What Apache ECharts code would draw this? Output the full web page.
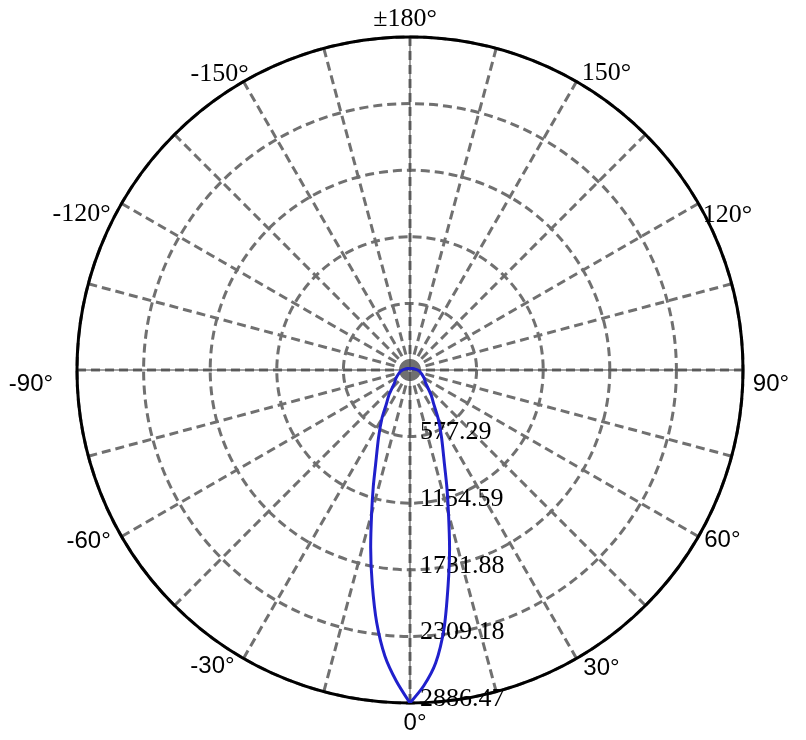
<!DOCTYPE html>
<html>
<head>
<meta charset="utf-8">
<script src="https://cdn.jsdelivr.net/npm/echarts@6/dist/echarts.min.js"></script>
<style>
html,body{margin:0;padding:0;background:#fff;}
#chart{width:806px;height:740px;}
</style>
</head>
<body>
<div id="chart"></div>
<script>
// ---- data ----
const radiusMax = 2886.47;
const radiusRingCount = 5;
const angleLabelAngles = [0, 30, 60, 90, 120, 150, 180, 210, 240, 270, 300, 330];
const angleLabelTexts = ['0°', '30°', '60°', '90°', '120°', '150°', '±180°', '-150°', '-120°', '-90°', '-60°', '-30°'];
const beamAngles = [-180, -150, -120, -100, -90, -80, -70, -60, -50, -40, -35, -30, -25, -20, -17.5, -15, -12.5, -10, -7.5, -5, -2.5,
  0, 2.5, 5, 7.5, 10, 12.5, 15, 17.5, 20, 25, 30, 35, 40, 50, 60, 70, 80, 90, 100, 120, 150, 180];
const beamValues = [12, 15, 25, 45, 64, 87, 108, 140, 176, 285, 355, 488, 645, 872, 1058, 1285, 1575, 1885, 2210, 2490, 2700,
  2886.47, 2740, 2550, 2260, 1900, 1585, 1290, 1062, 875, 648, 490, 358, 287, 178, 141, 110, 88, 65, 45, 25, 15, 12];

// ---- styles ----
const SERIF = 'Liberation Serif';
const SANS = 'Liberation Sans';
const gridColor = '#707070';
const gridDash = [9, 5];
// per-label placement (offset from the rim point) and font
const angleLabelOffsets = [[5, 20], [25, 10], [24, 4], [28, 14], [29, 12], [30, -8], [-5, -18], [-24, -7], [-40, 11], [-46, 14], [-33, 5], [-31, 8]];
const angleLabelFonts = [SANS, SANS, SANS, SANS, SERIF, SERIF, SERIF, SERIF, SERIF, SANS, SANS, SANS];

const chart = echarts.init(document.getElementById('chart'), null, {renderer: 'canvas'});

const toAxisAngle = a => (a < 0 ? a + 360 : a);
// two halves, each starting at the 0° tip so the smoothing keeps the tip sharp
const rightHalf = [];
const leftHalf = [];
beamAngles.forEach((a, i) => {
  if (a >= 0) rightHalf.push([beamValues[i], toAxisAngle(a)]);
  if (a <= 0) leftHalf.unshift([beamValues[i], toAxisAngle(a)]);
});
const labelData = angleLabelAngles.map((a, i) => ({
  value: [radiusMax, a],
  label: {
    offset: angleLabelOffsets[i],
    color: '#000',
    fontFamily: angleLabelFonts[i],
    fontSize: angleLabelFonts[i] === SERIF ? 26 : 24
  }
}));

const beamSeries = (name, data) => ({
  name: name,
  type: 'line',
  coordinateSystem: 'polar',
  polarIndex: 0,
  smooth: 0.25,
  showSymbol: false,
  symbol: 'none',
  lineStyle: {color: '#2020cc', width: 3, join: 'round'},
  data: data,
  z: 5
});

const option = {
  backgroundColor: '#fff',
  animation: false,
  polar: [
    {center: [410, 370], radius: 333},
    {center: [410, 370], radius: 333}
  ],
  angleAxis: [
    {
      polarIndex: 0,
      type: 'value', min: 0, max: 360, interval: 15,
      startAngle: -90, clockwise: false,
      axisLine: {show: true, lineStyle: {color: '#000', width: 3}},
      axisTick: {show: false},
      axisLabel: {show: false},
      splitLine: {show: true, lineStyle: {color: gridColor, width: 3, type: gridDash}}
    },
    {
      polarIndex: 1,
      type: 'value', min: 0, max: 360, interval: 90,
      startAngle: -90, clockwise: false,
      axisLine: {show: false},
      axisTick: {show: false},
      axisLabel: {show: false},
      splitLine: {show: true, lineStyle: {color: '#444', width: 1}}
    }
  ],
  radiusAxis: [
    {
      polarIndex: 0,
      type: 'value', min: 0, max: radiusMax, interval: radiusMax / radiusRingCount,
      axisLine: {show: false},
      axisTick: {show: false},
      splitLine: {show: true, lineStyle: {color: gridColor, width: 3, type: gridDash}},
      axisLabel: {
        show: true, margin: 10, color: '#000', fontFamily: SERIF, fontSize: 26,
        align: 'left', verticalAlign: 'bottom', lineHeight: 8,
        formatter: v => (v < 1 ? '' : v.toFixed(2))
      }
    },
    {
      polarIndex: 1,
      type: 'value', min: 0, max: radiusMax,
      axisLine: {show: false}, axisTick: {show: false},
      axisLabel: {show: false}, splitLine: {show: false}
    }
  ],
  series: [
    {
      name: 'angleLabels',
      type: 'scatter',
      coordinateSystem: 'polar',
      polarIndex: 0,
      symbolSize: 1,
      silent: true,
      itemStyle: {color: 'rgba(255,255,255,0)'},
      label: {
        show: true, position: 'inside', align: 'center', verticalAlign: 'middle',
        color: '#000', textBorderWidth: 0, opacity: 1,
        formatter: p => angleLabelTexts[p.dataIndex]
      },
      data: labelData,
      z: 1
    },
    beamSeries('intensity (0° to 180°)', rightHalf),
    beamSeries('intensity (0° to -180°)', leftHalf)
  ]
};
chart.setOption(option);
</script>
</body>
</html>
